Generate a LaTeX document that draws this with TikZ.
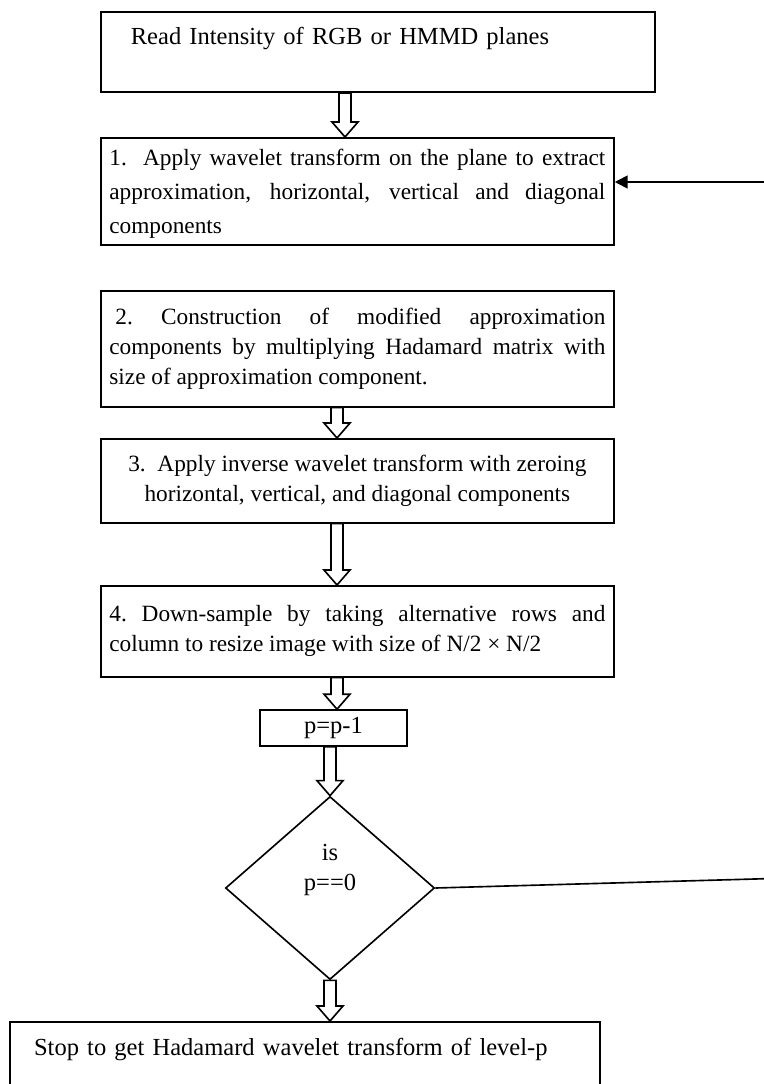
\documentclass[tikz,border=0pt]{standalone}
\usepackage{fontspec}
\setmainfont{Liberation Serif}
\usetikzlibrary{shapes.geometric,arrows.meta,calc}

\tikzset{
  stepbox/.style={draw, line width=0.8pt, anchor=north west, inner xsep=0.147cm,
    minimum width=8.824cm, font=\fontsize{11.4}{14.7}\selectfont},
  bigfont/.style={font=\fontsize{12}{14.7}\selectfont},
  hollow/.style={draw, line width=0.8pt, line join=miter},
  feed/.style={line width=0.8pt},
}
\newcommand{\jline}[1]{\makebox[8.53cm][s]{#1}}
% big open arrow between two nodes, in the column #1
\newcommand{\hollowarrow}[3]{%
  \draw[hollow] ($(#1 |- #2.south)+(-6,0)$) -- ($(#1 |- #3.north)+(-6,-15)$)
    -- ($(#1 |- #3.north)+(-13,-15)$) -- (#1 |- #3.north)
    -- ($(#1 |- #3.north)+(13,-15)$) -- ($(#1 |- #3.north)+(6,-15)$)
    -- ($(#1 |- #2.south)+(6,0)$) -- cycle;}

\begin{document}
\begin{tikzpicture}[x=0.0172cm,y=-0.0172cm]
\useasboundingbox (0,0) rectangle (764,1084);
\clip (0,0) rectangle (764,1084);
\node[stepbox, bigfont, text width=9.235cm, align=left, inner ysep=0.258cm, text depth=0.568cm] (read) at (100,11)
  {\hspace*{0.37cm}Read Intensity of RGB or HMMD planes};
\node[stepbox, minimum height=1.84cm, align=left, text depth=-3pt] (step1) at (100,137)
  {\jline{1.\ \ Apply wavelet transform on the plane to extract}\\[1.9pt]
   \jline{approximation, horizontal, vertical and diagonal}\\[1.9pt]
   components};
\node[stepbox, minimum height=1.995cm, align=left] (step2) at (100,290)
  {\jline{\hspace{3pt}2.\ Construction of modified approximation}\\
   \jline{components by multiplying Hadamard matrix with}\\
   size of approximation component.};
\node[stepbox, minimum height=1.445cm, align=center] (step3) at (100,438)
  {3.\ \ Apply inverse wavelet transform with zeroing\\
   horizontal, vertical, and diagonal components};
\node[stepbox, minimum height=1.565cm, align=left] (step4) at (100,585)
  {\jline{4.\ Down-sample by taking alternative rows and}\\
   column to resize image with size of N/2 × N/2};
\node[draw, line width=0.8pt, minimum width=2.528cm, minimum height=0.619cm, inner sep=0pt,
  bigfont] (update) at (333.5,728) {p=p-1};
\node[diamond, draw, line width=0.8pt, aspect=1.14, minimum width=3.595cm, minimum height=3.148cm,
  inner sep=0pt, align=center, text depth=0.705cm, bigfont] (check) at (330,888) {is\\p==0};
\node[stepbox, bigfont, text width=9.854cm, align=left, inner ysep=0.29cm, text depth=1.5cm] (stop) at (9,1021)
  {\hspace*{0.27cm}Stop to get Hadamard wavelet transform of level-p};

\coordinate (colA) at (345,0);
\coordinate (colB) at (337,0);
\coordinate (colC) at (330,0);
\hollowarrow{colA}{read}{step1}
\hollowarrow{colB}{step2}{step3}
\hollowarrow{colB}{step3}{step4}
\hollowarrow{colB}{step4}{update}
\hollowarrow{colC}{update}{check}
\hollowarrow{colC}{check}{stop}

% loop back to step 1
\coordinate (loopR) at (790,878);
\coordinate (loopT) at (790,182);
\draw[feed, -{Triangle[length=0.22cm,width=0.22cm]}] (check.east) -- (loopR) -- (loopT) -- (loopT -| step1.east);
\end{tikzpicture}
\end{document}
